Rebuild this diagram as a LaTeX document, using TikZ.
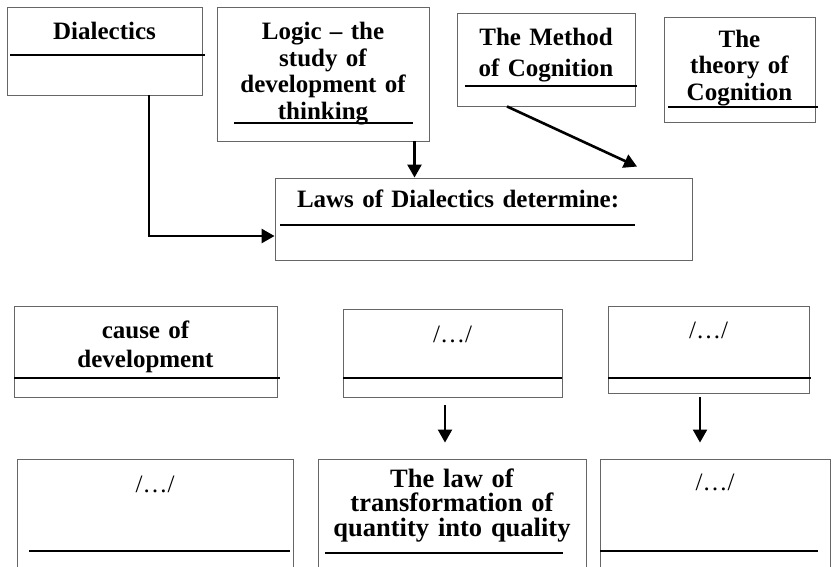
\documentclass[tikz,border=0pt]{standalone}
\usepackage{fontspec}
\setmainfont{Liberation Serif}[WordSpace=0.8]
\usetikzlibrary{arrows.meta}
\tikzset{box/.style={draw=black!60, line width=0.9pt, inner xsep=4pt, inner ysep=0pt, anchor=base, align=center, font=\bfseries\fontsize{25}{25.5}\selectfont}}
\tikzset{lines/.style={font=\bfseries\fontsize{25}{#1}\selectfont}}
\tikzset{blank/.style={font=\fontsize{25}{25.5}\selectfont}}
\tikzset{rule/.style={line width=2.6pt}}
\tikzset{link/.style={line width=2.6pt, -{Triangle[length=13pt,width=14pt]}}}

\begin{document}
\begin{tikzpicture}[x=1pt, y=-1pt]
  \clip (0, 0) rectangle (834, 566);

  % top row
  \node[box, text width=187pt, text height=32pt, text depth=56pt] at (104.5, 39) (dial) {Dialectics};
  \node[box, lines=26.5, text width=204pt, text height=32.5pt, text depth=101.5pt] at (323, 39.5) (logic) {Logic – the\\ study of\\ development of\\ thinking};
  \node[box, lines=31, text width=170pt, text height=32pt, text depth=61pt] at (546, 45) (meth) {The Method\\ of Cognition};
  \node[box, lines=26.5, text width=143pt, text height=30pt, text depth=75pt] at (739.5, 47) (theo) {The\\ theory of\\ Cognition};
  \draw[rule] (10, 55) -- (205, 55);
  \draw[rule] (234, 123) -- (413, 123);
  \draw[rule] (465, 86) -- (637, 86);
  \draw[rule] (668, 107) -- (818, 107);

  % laws
  \node[box, align=left, inner xsep=22pt, text width=373pt, text height=29pt, text depth=53pt] at (483.5, 207) (laws) {Laws of Dialectics determine:};
  \draw[rule] (280, 225) -- (635, 225);

  \draw[link] ([xshift=44.5pt]dial.south) |- ([yshift=-17pt]laws.west);
  \draw[link] ([xshift=91.5pt]logic.south) -- ([xshift=91.5pt]logic.south |- laws.north);
  \draw[link] ([xshift=-39pt]meth.south) -- ([xshift=153.5pt, yshift=11pt]laws.north);

  % middle row
  \node[box, lines=29, text width=255pt, text height=32pt, text depth=59pt] at (145.5, 338) (cause) {cause of\\ development};
  \node[box, blank, text width=211pt, text height=33pt, text depth=55pt] at (452.5, 342) (mid) {/…/};
  \node[box, blank, text width=193pt, text height=32pt, text depth=55pt] at (708.5, 338) (right) {/…/};
  \draw[rule] (14, 378) -- (280, 378);
  \draw[rule] (343, 378) -- (562, 378);
  \draw[rule] (608, 378) -- (811, 378);

  % bottom row
  \node[box, blank, text width=268pt, text height=33pt, text depth=118pt] at (155, 492) (low) {/…/};
  \node[box, font=\bfseries\fontsize{26.5}{24.5}\selectfont, text width=260pt, text height=28pt, text depth=123pt] at (452, 487) (quant) {The law of\\ transformation of\\ quantity into quality};
  \node[box, blank, text width=222pt, text height=31pt, text depth=120pt] at (715, 490) (last) {/…/};
  \draw[rule] (29, 551) -- (290, 551);
  \draw[rule] (325, 553) -- (563, 553);
  \draw[rule] (600, 551) -- (818, 551);

  \draw[link, line width=2.2pt, shorten <=8pt, shorten >=16pt] ([xshift=-7.5pt]mid.south) -- ([xshift=-7.5pt]mid.south |- quant.north);
  \draw[link, line width=2.2pt, shorten <=4pt, shorten >=16pt] ([xshift=-8.5pt]right.south) -- ([xshift=-8.5pt]right.south |- last.north);
\end{tikzpicture}
\end{document}
